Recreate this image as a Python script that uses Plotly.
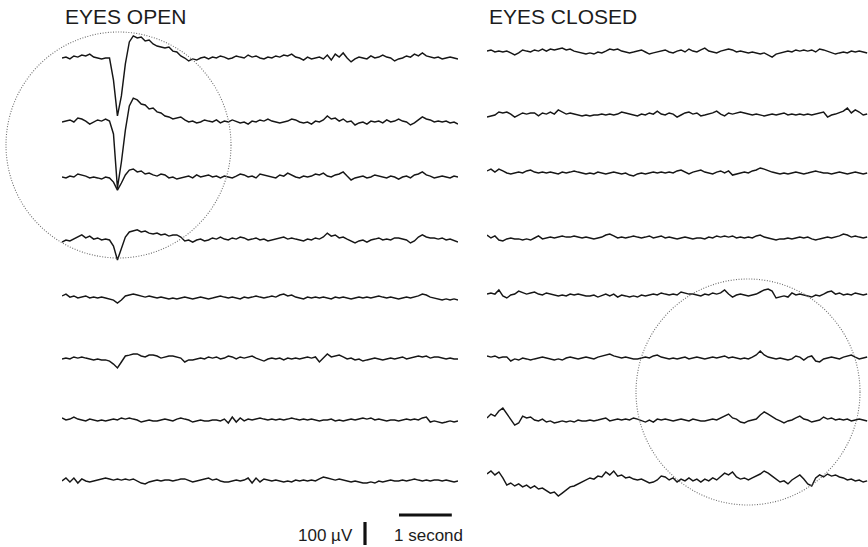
import numpy as np
import plotly.graph_objects as go

# ---------------- data (µV, positive = up), one sample every DT seconds ----------------
DT = 0.075

eo_ch1 = [0, 4, -4, 9, 4, 13, 9, 17, 4, 0, -4, 0, 0, -96, -252, -165, -26, 70, 96, 87, 91, 74, 78, 61, 52, 48, 44, 48, 30, 26,
          9, 0, -13, -4, -9, 0, 4, -4, 4, 0, 9, 4, -4, 0, 9, 4, 0, 13, 4, 9, 0, -4, 4, 0, 9, 4, 13, 9, 17, 4,
          0, -9, 4, -4, 0, 4, -4, 13, -9, 17, 4, 22, 0, -17, -4, 4, 0, -4, 9, 0, 4, 13, 4, 0, -13, -4, 0, 9, 4, 17,
          9, 22, 9, 4, 0, 4, -4, 0, 4, 0, -4]
eo_ch2 = [0, 4, 9, 0, 17, 13, 4, -9, 0, 9, 4, 13, 4, -52, -287, -174, -35, 70, 104, 96, 78, 74, 57, 61, 44, 39, 26, 22, 13, 17,
          22, 9, 0, 4, -4, 0, 9, 4, 0, 9, -4, 4, 0, 9, 4, -4, 0, -9, 4, 0, 9, 4, 13, 4, 0, -4, 0, 4, 13, 9,
          0, -4, 0, -9, 4, 0, 9, 26, 13, 17, 4, 13, 0, 4, -13, -4, 0, -9, 4, 0, 4, -4, 9, 0, 4, 13, 4, 0, -13, -4,
          9, 22, 13, 9, 0, 4, 0, 4, -4, 0, -9]
eo_ch3 = [0, -4, 4, 0, 13, 9, 4, -4, 0, -4, -9, 0, -4, -22, -57, -26, 9, 30, 35, 22, 26, 13, 17, 9, 4, 13, 9, -4, 0, -9,
          -4, 0, 4, -4, 9, 0, 4, 9, 0, 4, -4, 4, 0, -4, 4, 13, 9, 0, 4, -4, 13, 9, 4, 0, -4, 9, 4, 17, 9, 0,
          -4, 4, 0, 4, 13, 9, 17, 4, 0, 9, 13, 22, 4, -13, -4, 0, 4, -4, 0, 9, 4, 0, -4, 4, 0, -9, 0, 4, -4, 9,
          13, 22, 9, 4, -4, 0, 4, 0, -4, 4, 0]
eo_ch4 = [-9, 0, -4, 4, 13, 22, 9, 17, 4, 9, 0, 4, 0, -26, -87, -35, 13, 35, 39, 44, 35, 39, 30, 26, 30, 22, 26, 17, 22, 22,
          13, -4, 0, -9, 0, 4, -4, 0, 9, 4, 13, 4, 0, 9, 4, 13, 9, 0, 4, 9, 0, 4, -4, 0, 4, 9, 13, 4, 9, 4,
          0, -4, 4, 0, 9, 4, 13, 30, 17, 22, 9, 13, 4, -4, -13, -4, 0, -9, 0, 4, 9, 0, 4, 0, 9, 9, 4, 0, -13, -4,
          13, 22, 13, 9, 9, 4, 9, 0, 4, -4, -9]
eo_ch5 = [9, 17, 4, 9, 0, 4, 9, 0, 4, 0, 4, 0, -4, -9, -22, -9, 9, 13, 17, 13, 9, 4, 9, 4, 0, 4, 0, -4, 0, -4,
          0, 4, 0, -4, 0, 4, 0, -4, 0, 4, 9, 4, 0, 4, 0, -4, 4, 0, 4, 9, 4, 0, 4, 9, 4, 13, 17, 9, 13, 4,
          0, -4, 4, 0, 4, 0, 4, 0, -4, 4, 0, 4, 0, -4, 0, 4, 0, 4, 0, 4, 9, 4, 0, 4, 0, -4, 0, 4, 0, 4,
          9, 17, 13, 4, 0, -4, -9, -4, -9, -4, -9]
eo_ch6 = [0, 4, 0, 9, 4, 9, 4, 0, -4, 0, -4, -4, -9, -22, -39, -13, 13, 17, 22, 22, 13, 9, 17, 17, 13, 4, 9, 13, 13, 9,
          4, -13, -4, -4, 0, 4, 0, 9, 4, 9, 0, 4, 13, 9, 0, 9, 4, 9, 13, 4, -4, -9, 0, 4, 0, 4, -4, 4, 0, 4,
          0, 4, 9, 4, 9, -13, 4, 22, 9, 13, 17, 9, 0, 4, -4, 0, -9, -4, 0, 4, 0, -4, 0, 4, 0, 4, 9, 0, 4, 9,
          13, 9, 13, 4, 9, 9, 4, 0, 4, 0, 0]
eo_ch7 = [9, 0, 4, 13, 4, 0, -4, 4, 0, -4, 0, -4, 0, 4, 0, 9, 4, 9, 4, 0, -9, -4, 0, -4, -4, 0, 4, 0, -4, 4,
          9, 4, 0, -9, -4, 0, -4, -4, 0, 0, -4, 4, -13, 13, -9, 9, -4, 4, 0, 4, 9, 4, 0, 4, 0, 4, 0, 4, 9, 4,
          0, 4, 0, 4, 0, -4, 0, 0, 4, -4, 0, -4, 0, 4, 0, 4, 9, 4, 9, 0, 4, 0, -4, 0, 0, -4, 0, 4, 0, 4,
          0, 9, 13, -9, -4, -9, -13, -9, -4, -9, -4]
eo_ch8 = [0, 13, -4, 13, -9, 9, 0, -4, 0, 4, 9, 13, 9, 4, 9, 4, 9, 4, 9, 0, -9, -13, -4, 0, 4, 0, 4, 4, 0, 4,
          9, 9, 4, -4, 0, 4, 9, 13, 4, 9, 0, -4, -4, 0, 4, 0, 4, 13, -9, 13, -4, 9, 4, 0, 4, 0, -4, 0, -4, 4,
          0, 4, 0, 4, 0, 9, 17, 13, 9, 4, 9, 4, 0, -4, 0, -4, -9, -9, -4, -9, 0, -4, 0, 4, 0, 0, 4, 0, 4, 9,
          4, 0, 4, 0, 4, 4, 0, 4, 0, -4, 0]

ec_ch1 = [4, 9, 0, 4, 0, 4, -4, -13, -4, 9, 4, 0, 9, 4, 13, 4, 13, 9, 13, 17, 9, 13, 4, 0, -4, -9, -4, -9, 0, -4,
          4, 13, 9, 13, 4, 0, -4, 0, 4, 9, 0, -9, -4, 0, 4, 9, 0, -4, 4, 9, 0, 13, 4, 0, 9, 17, 4, 0, -4, 4,
          9, 13, 9, 0, 4, 0, -4, 0, -4, -9, -4, -13, -22, -9, -4, 0, 4, 0, 9, 4, 9, 4, 9, 0, 13, 9, 4, -4, -9, -4,
          0, -4, 4, 0, 4, 0, -4]
ec_ch2 = [-9, -4, 0, 13, 9, 13, 4, -9, 0, 9, 4, 9, 9, -4, 9, 4, 13, 4, 22, 13, 4, 9, 4, 0, -4, 0, -4, 0, 0, 4,
          0, 4, 0, 4, 13, 9, 4, 0, -4, 4, 0, 9, 4, 17, 4, 0, 9, 4, -9, 0, 9, 13, 4, 9, -4, 0, 4, 9, 17, 4,
          -4, 9, 4, 9, 13, 9, 4, 0, 4, 0, -4, 0, 4, 0, 4, 9, 0, 4, 0, 4, 0, 4, 0, 4, 9, 13, -9, 0, 4, 9,
          17, 30, 9, 22, 13, 0, 4]
ec_ch3 = [9, 17, 4, 17, 9, 0, -4, 0, 4, 0, 9, 13, 4, 0, 4, 0, 4, 0, -4, 4, 0, 4, 9, 4, 0, -4, 0, -4, 4, 0,
          -4, 0, 4, 0, -4, 0, -9, -13, -4, 0, -4, 0, 4, 0, 4, 0, 4, 0, 9, 13, 4, -4, 4, 9, 13, 4, 0, -4, 4, 9,
          0, 9, -9, -4, 0, 4, 0, 9, 13, 22, 17, 9, 4, 0, -4, 0, -4, 0, 4, 0, -4, 0, 4, 9, 4, 0, 0, -4, 0, 4,
          0, -4, 0, 4, 0, -4, 0]
ec_ch4 = [13, 0, 9, -9, -13, -4, 0, -4, -4, -9, -4, -9, 0, 9, -4, 0, 4, 0, 4, 9, 4, 4, 9, 4, 0, 4, 0, -4, 0, 4,
          13, 17, 9, 0, 4, 0, 4, 9, 4, 0, 4, 9, 0, 4, 9, 0, 4, 0, -4, 0, 4, 0, -4, 0, 0, -4, 4, 0, 9, 4,
          9, 4, 9, 0, 4, 0, 4, 0, 9, 13, 4, 0, -4, -9, -4, -4, 0, -4, 0, 4, 0, 4, -4, -9, -4, 0, 4, 0, 4, 9,
          17, 13, 4, 9, 4, 0, 4]
ec_ch5 = [4, 9, 4, 22, -4, -13, 0, 4, 17, 9, 4, 9, 13, 4, 0, 9, 4, 0, -4, 0, -4, 4, 0, 4, 0, -4, -4, 0, -9, -4,
          4, -4, 4, -9, 0, -4, -9, -4, -9, 0, -4, 0, 4, 0, 9, 4, 0, 4, 0, 13, 9, 4, 4, 0, -4, 4, 0, 9, 4, 9,
          22, 4, -9, 0, 4, 0, -4, 0, 4, 13, 22, 26, 17, -13, -9, -4, -9, 9, 0, 4, 0, -4, -9, 0, -4, 4, 13, 17, 4, 9,
          0, 4, 0, 9, 4, 0, 4]
ec_ch6 = [9, 4, 9, 0, 4, 4, -13, -4, -9, 0, -4, -9, -4, 0, 4, 0, -4, -9, -4, -9, 0, 4, 0, -4, 0, 4, 0, -4, 4, 9,
          13, 17, 9, 4, 0, 4, 0, -4, -4, 0, 4, 0, 9, 13, 4, 0, -4, 0, -4, 0, 4, -4, 0, 4, 0, -4, 0, 4, 0, 4,
          9, 0, 4, 0, -4, 0, -4, 4, 13, 30, 13, 4, 0, -4, 0, -4, -9, -4, 9, 4, -9, 4, 9, -13, -17, -4, 0, 4, 0, -4,
          4, 9, 13, 4, -4, 0, 4]
ec_ch7 = [9, 26, 17, 39, 52, 26, 0, -22, -13, 17, 9, 13, 0, -4, 4, -9, -4, -13, -9, -4, -9, -4, -9, 0, -4, -4, 0, -4, 0, 4,
          9, -4, 0, 4, 0, 4, 0, 9, 4, -4, -9, 0, -9, 4, 0, 4, 0, -4, 0, 4, 0, -4, 4, 0, -4, -4, 0, 4, 0, 9,
          17, 26, 9, 4, -9, -13, -4, 0, 4, 22, 35, 26, 13, 4, -4, -13, -4, 0, 9, 17, 4, 0, -9, -4, 0, 13, 4, 9, 0, 4,
          0, 4, -4, 0, 4, 0, -4]
ec_ch8 = [26, 39, 22, 35, 9, -22, -13, -26, -17, -30, -22, -35, -26, -39, -35, -48, -57, -52, -70, -57, -44, -30, -26, -17, -9, 0, 9, 4, 17, 13,
          35, 22, 39, 17, 22, 9, 13, 4, 0, 4, -4, -13, -9, 0, 17, 13, 0, 9, -9, 4, -4, 9, -4, 4, -9, 4, -4, 9, 0, 13,
          30, 22, 35, 13, 4, 9, 0, 9, 17, 26, 39, 30, 17, 4, -9, -4, -17, 0, 13, 22, 4, -17, -26, 9, 22, 13, 26, 17, 22, 13,
          9, 0, 4, -4, 0, -9, -4]

panel_titles = ["EYES OPEN", "EYES CLOSED"]
scale_uv = 100        # µV
scale_time = 1.0      # s
scale_uv_label = "100 µV"
scale_time_label = "1 second"

# ---------------- layout constants (pixels) ----------------
W, H = 868, 547
PX_PER_S = 52.8
UV_PER_PX = 4.35
LEFT_X0, LEFT_X1 = 62, 458
RIGHT_X0 = 487
base_left_px = [58, 122, 177, 240, 298, 359, 420, 481]
base_right_px = [52, 115, 173, 238, 295, 358, 420, 480]

LINE_COLOR = "#161616"
LINE_W = 1.45

fig = go.Figure()

def add_panel(channels, bases, xaxis):
    for vals, base in zip(channels, bases):
        v = np.asarray(vals, dtype=float)
        t = np.arange(len(v)) * DT
        fig.add_trace(go.Scatter(
            x=t, y=v - base * UV_PER_PX, mode="lines", xaxis=xaxis, yaxis="y",
            line=dict(color=LINE_COLOR, width=LINE_W), hoverinfo="skip", showlegend=False))

add_panel([eo_ch1, eo_ch2, eo_ch3, eo_ch4, eo_ch5, eo_ch6, eo_ch7, eo_ch8], base_left_px, "x")
add_panel([ec_ch1, ec_ch2, ec_ch3, ec_ch4, ec_ch5, ec_ch6, ec_ch7, ec_ch8], base_right_px, "x2")

ax_common = dict(visible=False, showgrid=False, zeroline=False, fixedrange=True)
fig.update_layout(
    width=W, height=H,
    margin=dict(l=0, r=0, t=0, b=0),
    paper_bgcolor="white", plot_bgcolor="white",
    showlegend=False,
    xaxis=dict(domain=[LEFT_X0 / W, LEFT_X1 / W], range=[0, (LEFT_X1 - LEFT_X0) / PX_PER_S], anchor="y", **ax_common),
    xaxis2=dict(domain=[RIGHT_X0 / W, 1.0], range=[0, (W - RIGHT_X0) / PX_PER_S], anchor="y", **ax_common),
    yaxis=dict(domain=[0, 1], range=[-H * UV_PER_PX, 0], **ax_common),
    font=dict(family="Liberation Sans, Arial, sans-serif", color="#1c1c1c"),
)

def px_to_t(px):
    return (px - LEFT_X0) / PX_PER_S

def px_to_uv(py):
    return -py * UV_PER_PX

shapes = []
# dotted circles (paper coordinates)
for (x0, x1, y0, y1) in [(6, 231, 32, 258), (636, 860, 279, 505)]:
    shapes.append(dict(type="circle", xref="paper", yref="paper",
                       x0=x0 / W, x1=x1 / W, y0=1 - y1 / H, y1=1 - y0 / H,
                       line=dict(color="#6e6e6e", width=1.1, dash="1px,1.6px")))
# scale bars
tb0 = px_to_t(399)
shapes.append(dict(type="line", xref="x", yref="y", x0=tb0, x1=tb0 + scale_time,
                   y0=px_to_uv(515), y1=px_to_uv(515), line=dict(color="#111", width=3)))
vb_t = px_to_t(365)
vb_y0 = px_to_uv(545)
shapes.append(dict(type="line", xref="x", yref="y", x0=vb_t, x1=vb_t,
                   y0=vb_y0, y1=vb_y0 + scale_uv, line=dict(color="#111", width=3.2)))
fig.update_layout(shapes=shapes)

ann = [
    dict(text=panel_titles[0], x=63 / W, y=1 - 17 / H, xanchor="left", yanchor="middle", font=dict(size=21)),
    dict(text=panel_titles[1], x=487 / W, y=1 - 17 / H, xanchor="left", yanchor="middle", font=dict(size=21)),
    dict(text=scale_uv_label, x=355 / W, y=1 - 535 / H, xanchor="right", yanchor="middle", font=dict(size=17)),
    dict(text=scale_time_label, x=392 / W, y=1 - 535 / H, xanchor="left", yanchor="middle", font=dict(size=17)),
]
for a in ann:
    a.update(xref="paper", yref="paper", showarrow=False)
fig.update_layout(annotations=ann)

fig.write_html(
    "out.html",
    config={"displayModeBar": False, "staticPlot": True},
    post_script="document.body.style.margin='0';document.body.style.padding='0';"
                "document.documentElement.style.overflow='hidden';",
)
